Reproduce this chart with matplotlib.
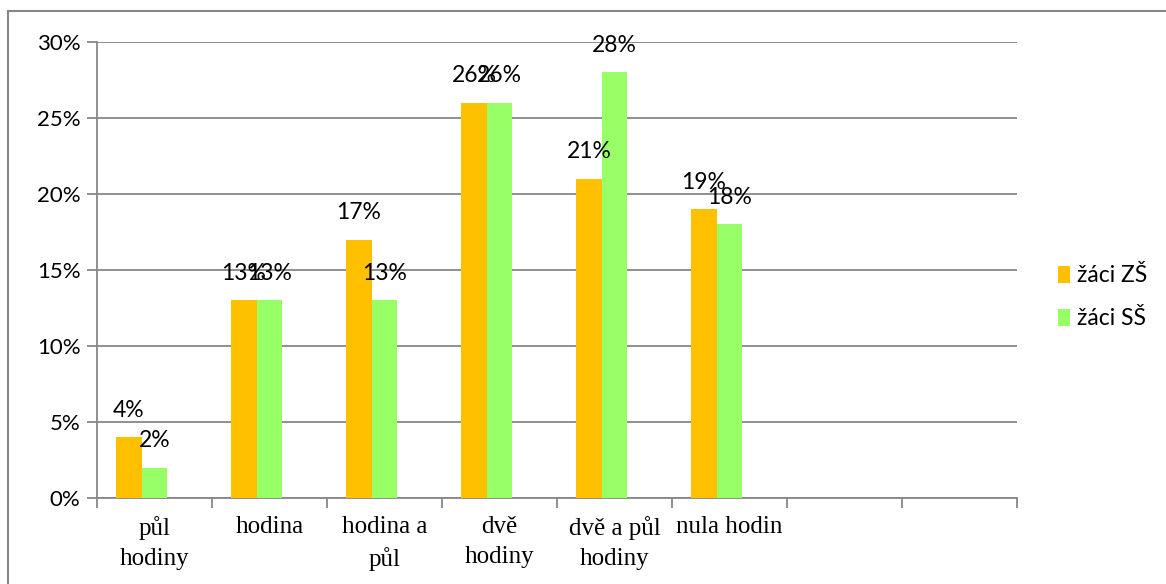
import matplotlib.pyplot as plt
import numpy as np
from matplotlib.patches import Rectangle

# Data
categories = ["půl\nhodiny", "hodina", "hodina a\npůl", "dvě\nhodiny",
              "dvě a půl\nhodiny", "nula hodin", "", ""]
zs_values = [4, 13, 17, 26, 21, 19]
ss_values = [2, 13, 13, 26, 28, 18]
series_names = ["žáci ZŠ", "žáci SŠ"]
yticks = [0, 5, 10, 15, 20, 25, 30]

plt.rcParams['font.family'] = ['Lato', 'DejaVu Sans']

fig = plt.figure(figsize=(11.66, 5.84), dpi=100)
ax = fig.add_axes([97 / 1166, 1 - 498 / 584, 920 / 1166, 456 / 584])

grid_col = "#878787"
w = 1 / 4.5
x = np.arange(len(zs_values)) + 0.5

# Excel layout: 3 series slots, the third one empty
bars1 = ax.bar(x - w, zs_values, width=w, color="#FFC000", label=series_names[0], zorder=3)
bars2 = ax.bar(x, ss_values, width=w, color="#99FF66", label=series_names[1], zorder=3)

for bars in (bars1, bars2):
    for b in bars:
        ax.annotate("{}%".format(int(b.get_height())),
                    (b.get_x() + b.get_width() / 2, b.get_height()),
                    xytext=(0, 12), textcoords="offset points",
                    ha="center", va="bottom", fontsize=16.5, zorder=4)

ax.set_xlim(0, len(categories))
ax.set_ylim(0, 30)
ax.set_yticks(yticks)
ax.set_yticklabels(["{}%".format(t) for t in yticks], fontsize=16)
ax.yaxis.grid(True, color=grid_col, linewidth=1.3, zorder=0)

ax.set_xticks(np.arange(len(categories) + 1))
ax.set_xticklabels([])
ax.set_xticks(np.arange(len(categories)) + 0.5, minor=True)
ax.set_xticklabels(categories, minor=True, fontsize=18, family="Liberation Serif",
                   linespacing=1.45, va="top")
ax.tick_params(axis="x", which="minor", length=0, pad=13)
ax.tick_params(axis="x", which="major", length=7, color=grid_col, width=1.3)
ax.tick_params(axis="y", length=7, color=grid_col, width=1.3, pad=5)

for s in ["top", "right"]:
    ax.spines[s].set_visible(False)
for s in ["left", "bottom"]:
    ax.spines[s].set_color(grid_col)
    ax.spines[s].set_linewidth(1.3)

ax.legend(loc="center left", bbox_to_anchor=(1.022, 0.44), frameon=False,
          fontsize=16.5, handlelength=0.55, handleheight=0.75, handletextpad=0.3,
          labelspacing=0.95)

# outer chart border
fig.patches.append(Rectangle((8 / 1166, -0.1), 1.2, 1 - 11 / 584 + 0.1,
                             transform=fig.transFigure, fill=False,
                             edgecolor=grid_col, linewidth=1.5))

fig.savefig("out.png", dpi=100)
